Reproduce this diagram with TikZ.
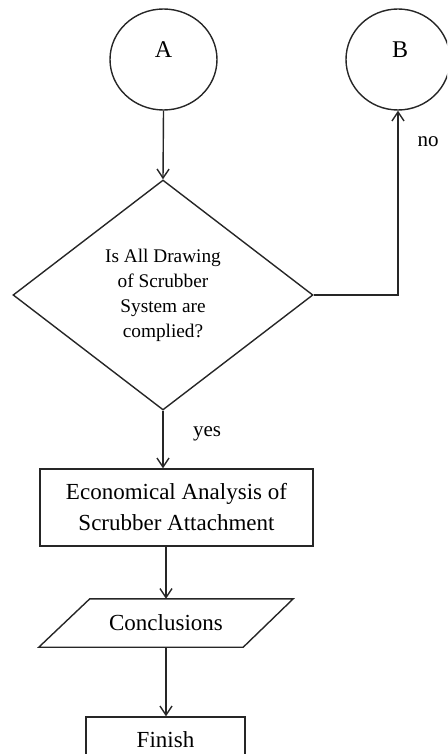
\documentclass[tikz,border=0pt]{standalone}
\usepackage{fontspec}
\setmainfont{Liberation Serif}
\usetikzlibrary{shapes.geometric,arrows.meta}
\begin{document}
\begin{tikzpicture}[x=1pt,y=-1pt,
  every node/.style={font=\fontsize{23}{31}\selectfont, text=black},
  conn/.style={line width=1.4pt, draw=black!85},
  arr/.style={conn, -{Straight Barb[length=9pt,width=12pt]}},
  term/.style={ellipse, conn, inner sep=0pt, minimum height=101pt},
  decision/.style={diamond, conn, inner sep=0pt, minimum width=300pt, minimum height=230pt,
     align=center, font=\fontsize{19.3}{25}\selectfont},
  procbox/.style={rectangle, conn, inner sep=0pt, align=center},
  iobox/.style={rectangle, inner sep=0pt, minimum width=254pt, minimum height=48pt},
  lbl/.style={inner sep=0pt, font=\fontsize{21}{25}\selectfont}
]
\clip (0,0) rectangle (447,754);

\node[term, minimum width=107pt, label={[yshift=10pt, font=\fontsize{24}{28}\selectfont]center:A}] (A) at (163.5,59.5) {};
\node[term, minimum width=104pt, label={[yshift=10pt, xshift=2pt, font=\fontsize{24}{28}\selectfont]center:B}] (B) at (398,59.5) {};

\node[decision] (D) at (163,295) {Is All Drawing\\of Scrubber\\System are\\complied?};

\node[procbox, minimum width=273pt, minimum height=77pt] (E) at (176.5,507.5) {Economical Analysis of\\Scrubber Attachment};

\node[iobox] (C) at (166,623) {Conclusions};
\draw[conn] (C.south west) -- ([xshift=51pt]C.north west) -- (C.north east) -- ([xshift=-50pt]C.south east) -- cycle;

\node[procbox, minimum width=159pt, minimum height=45pt] (F) at (165.5,739.5) {Finish};

\node[lbl] (no) at (428,142) {no};
\node[lbl] (yes) at (207,434) {yes};

\draw[arr] (A.south) -- (D.north);
\draw[arr] (D.east) -| (B.south);
\draw[arr] (D.south) -- (D.south |- E.north);
\draw[arr] (C.north |- E.south) -- (C.north);
\draw[arr] (C.south) -- (C.south |- F.north);
\end{tikzpicture}
\end{document}
